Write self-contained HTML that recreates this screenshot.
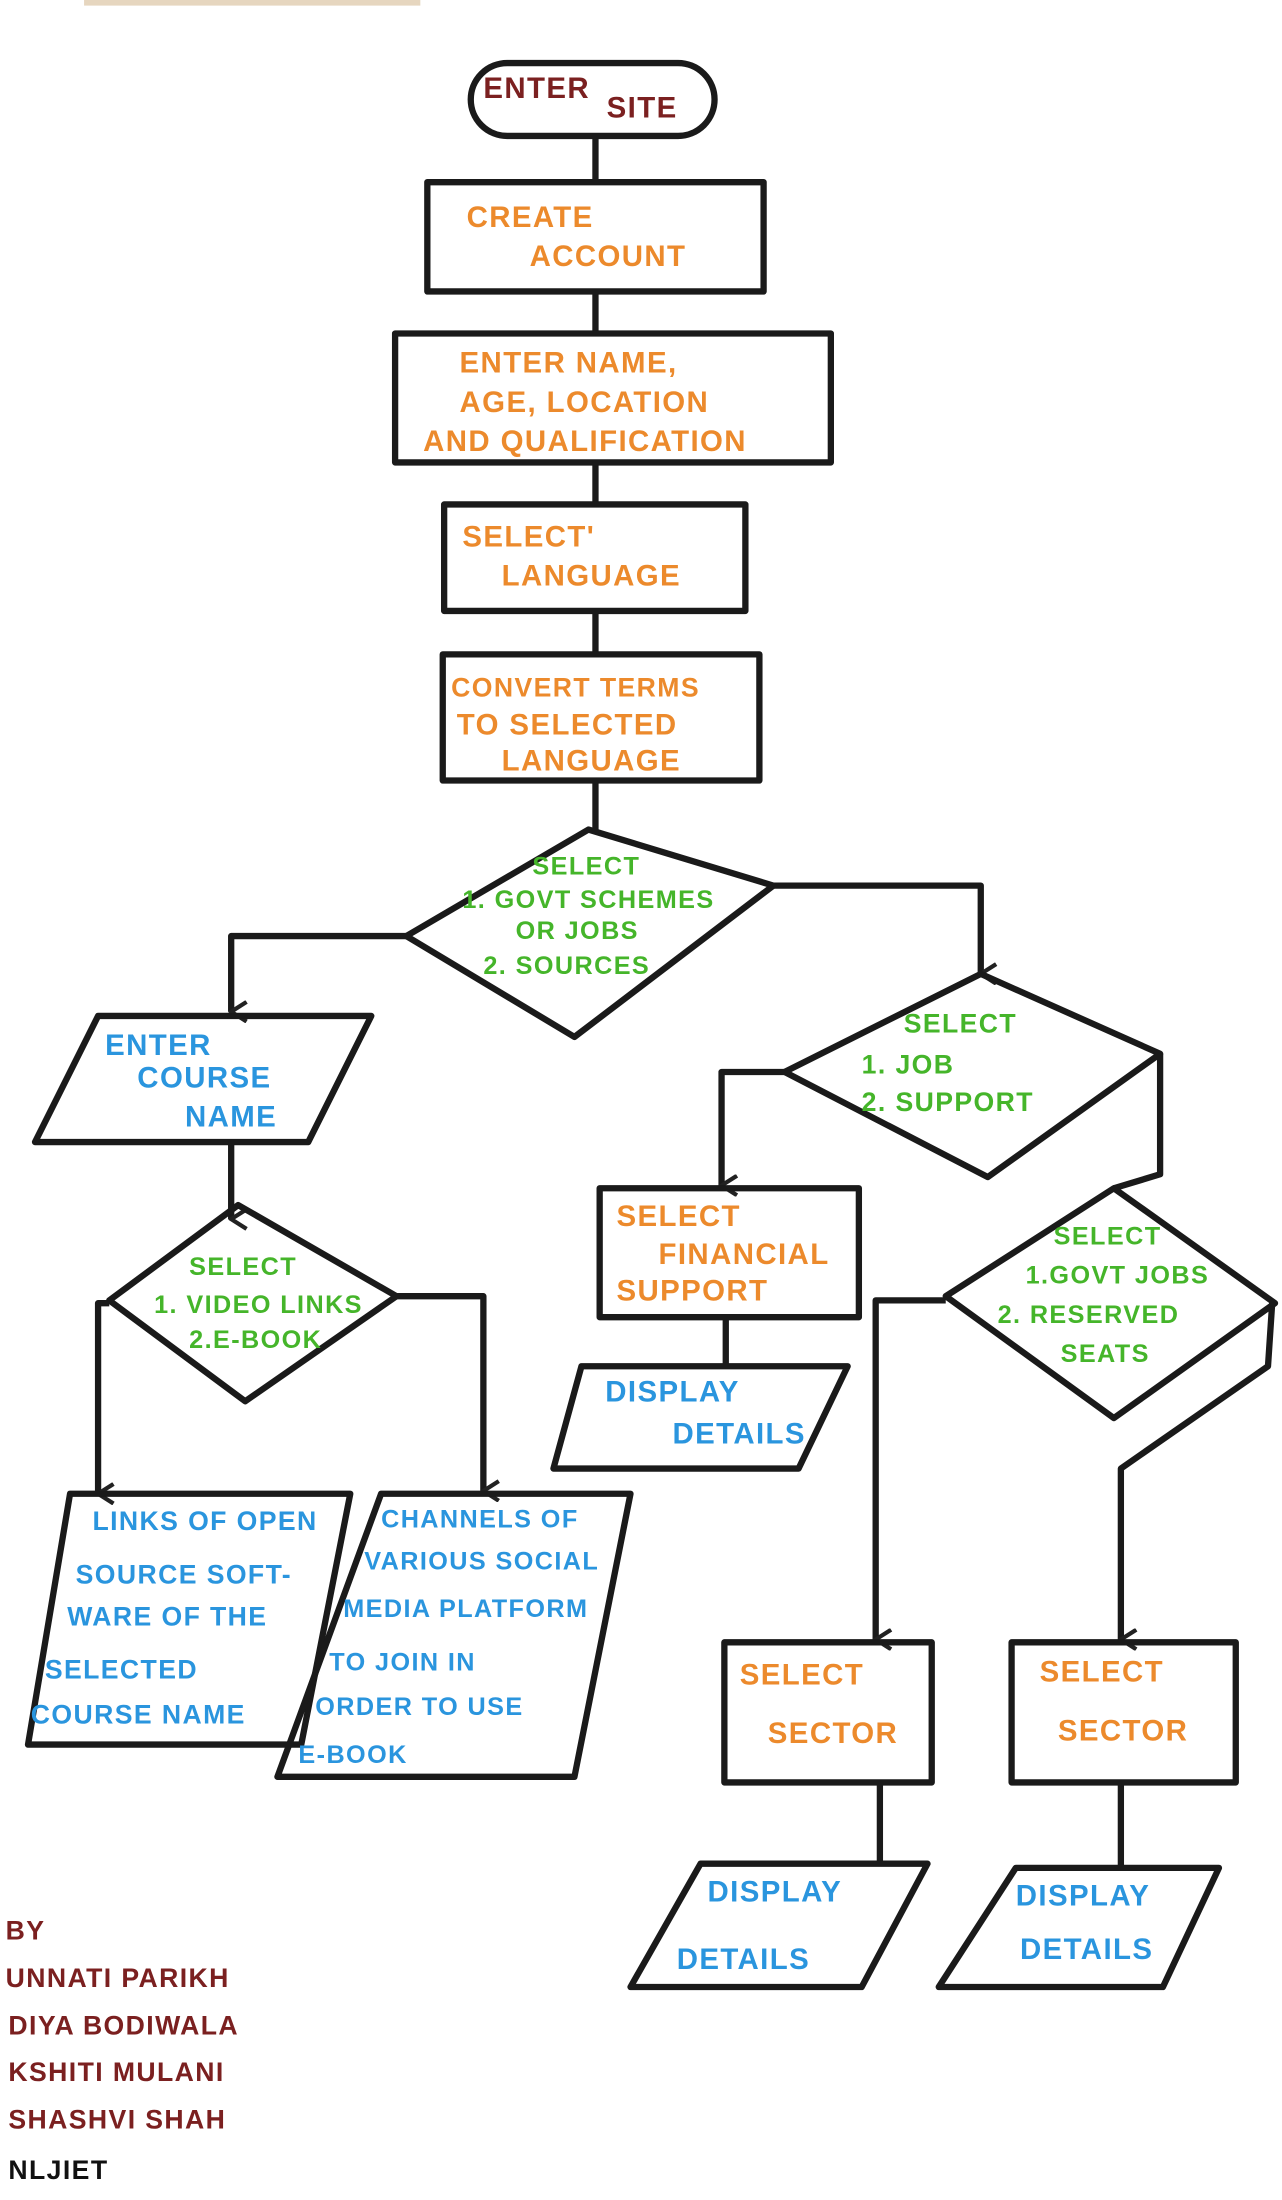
<!DOCTYPE html>
<html><head><meta charset="utf-8"><style>
html,body{margin:0;padding:0;background:#fff;}
svg{display:block}
text{font-family:"Liberation Sans",sans-serif;font-size:21px;letter-spacing:1px;font-weight:bold}
.o{fill:#ec8a2c}.g{fill:#45b52a}.b{fill:#2a95de}.r{fill:#7b2020}.k{fill:#111}
</style></head><body>
<svg width="1282" height="2200" viewBox="0 0 915 1570" preserveAspectRatio="none" xmlns="http://www.w3.org/2000/svg">
<rect x="0" y="0" width="915" height="1570" fill="#fff"/>
<rect x="60" y="0" width="240" height="4" fill="#e6d6bf"/>
<defs><marker id="a" markerWidth="16" markerHeight="14" refX="8" refY="12" orient="auto" markerUnits="userSpaceOnUse"><path d="M1,1 L8,12 L15,1" fill="none" stroke="#222" stroke-width="3"/></marker></defs>
<g fill="none" stroke="#1a1a1a" stroke-width="4.5" stroke-linejoin="round">
<rect x="336" y="45" width="174" height="52" rx="26"/>
<line x1="425" y1="97" x2="425" y2="130"/>
<rect x="305" y="130" width="240" height="78"/>
<line x1="425" y1="208" x2="425" y2="238"/>
<rect x="282" y="238" width="311" height="92"/>
<line x1="425" y1="330" x2="425" y2="360"/>
<rect x="317" y="360" width="215" height="76"/>
<line x1="425" y1="436" x2="425" y2="467"/>
<rect x="316" y="467" width="226" height="90"/>
<line x1="425" y1="557" x2="425" y2="592"/>
<polygon points="420,592 552,632 410,740 290,668"/>
<polyline points="290,668 165,668 165,722" marker-end="url(#a)"/>
<polyline points="552,632 700,632 700,695" marker-end="url(#a)"/>
<polygon points="70,725 265,725 220,815 25,815"/>
<line x1="165" y1="815" x2="165" y2="870" marker-end="url(#a)"/>
<polygon points="170,860 283,925 175,1000 78,928"/>
<polyline points="78,930 70,930 70,1066" marker-end="url(#a)"/>
<polyline points="283,925 345,925 345,1064" marker-end="url(#a)"/>
<polygon points="50,1066 250,1066 215,1245 20,1245"/>
<polygon points="272,1066 450,1066 410,1268 198,1268"/>
<polygon points="700,695 828,752 705,840 560,765"/>
<polyline points="560,765 515,765 515,846" marker-end="url(#a)"/>
<polyline points="828,752 828,838 795,848"/>
<rect x="428" y="848" width="185" height="92"/>
<line x1="518" y1="940" x2="518" y2="975"/>
<polygon points="415,975 605,975 570,1048 395,1048"/>
<polygon points="795,848 910,930 795,1012 675,925"/>
<polyline points="675,928 625,928 625,1170" marker-end="url(#a)"/>
<polyline points="908,930 905,975 800,1048 800,1170" marker-end="url(#a)"/>
<rect x="517" y="1172" width="148" height="100"/>
<rect x="722" y="1172" width="160" height="100"/>
<line x1="628" y1="1272" x2="628" y2="1330"/>
<line x1="800" y1="1272" x2="800" y2="1332"/>
<polygon points="500,1330 662,1330 615,1418 450,1418"/>
<polygon points="725,1333 870,1333 830,1418 670,1418"/>
</g>
<text class="r" x="345" y="70">ENTER</text><text class="r" x="433" y="84">SITE</text>
<text class="o" x="333" y="162">CREATE</text><text class="o" x="378" y="190">ACCOUNT</text>
<text class="o" x="328" y="266">ENTER  NAME,</text><text class="o" x="328" y="294">AGE, LOCATION</text><text class="o" x="302" y="322">AND QUALIFICATION</text>
<text class="o" x="330" y="390">SELECT'</text><text class="o" x="358" y="418">LANGUAGE</text>
<text class="o" x="322" y="497" style="font-size:19px">CONVERT  TERMS</text><text class="o" x="326" y="524">TO  SELECTED</text><text class="o" x="358" y="550">LANGUAGE</text>
<text class="g" x="380" y="624" style="font-size:18px">SELECT</text><text class="g" x="330" y="648" style="font-size:18px">1. GOVT SCHEMES</text><text class="g" x="368" y="670" style="font-size:18px">OR  JOBS</text><text class="g" x="345" y="695" style="font-size:18px">2. SOURCES</text>
<text class="b" x="75" y="753">ENTER</text><text class="b" x="98" y="776">COURSE</text><text class="b" x="132" y="804">NAME</text>
<text class="g" x="135" y="910" style="font-size:18px">SELECT</text><text class="g" x="110" y="937" style="font-size:18px">1. VIDEO LINKS</text><text class="g" x="135" y="962" style="font-size:18px">2.E-BOOK</text>
<text class="b" x="66" y="1092" style="font-size:19px">LINKS  OF  OPEN</text><text class="b" x="54" y="1130" style="font-size:19px">SOURCE  SOFT-</text><text class="b" x="48" y="1160" style="font-size:19px">WARE   OF  THE</text><text class="b" x="32" y="1198" style="font-size:19px">SELECTED</text><text class="b" x="22" y="1230" style="font-size:19px">COURSE NAME</text>
<text class="b" x="272" y="1090" style="font-size:18px">CHANNELS  OF</text><text class="b" x="260" y="1120" style="font-size:18px">VARIOUS  SOCIAL</text><text class="b" x="245" y="1154" style="font-size:18px">MEDIA PLATFORM</text><text class="b" x="235" y="1192" style="font-size:18px">TO  JOIN  IN</text><text class="b" x="225" y="1224" style="font-size:18px">ORDER  TO  USE</text><text class="b" x="213" y="1258" style="font-size:18px">E-BOOK</text>
<text class="g" x="645" y="737" style="font-size:19px">SELECT</text><text class="g" x="615" y="766" style="font-size:19px">1.  JOB</text><text class="g" x="615" y="793" style="font-size:19px">2.  SUPPORT</text>
<text class="o" x="440" y="875">SELECT</text><text class="o" x="470" y="902">FINANCIAL</text><text class="o" x="440" y="928">SUPPORT</text>
<text class="b" x="432" y="1000">DISPLAY</text><text class="b" x="480" y="1030">DETAILS</text>
<text class="g" x="752" y="888" style="font-size:18px">SELECT</text><text class="g" x="732" y="916" style="font-size:18px">1.GOVT JOBS</text><text class="g" x="712" y="944" style="font-size:18px">2. RESERVED</text><text class="g" x="757" y="972" style="font-size:18px">SEATS</text>
<text class="o" x="528" y="1202">SELECT</text><text class="o" x="548" y="1244">SECTOR</text>
<text class="o" x="742" y="1200">SELECT</text><text class="o" x="755" y="1242">SECTOR</text>
<text class="b" x="505" y="1357">DISPLAY</text><text class="b" x="483" y="1405">DETAILS</text>
<text class="b" x="725" y="1360">DISPLAY</text><text class="b" x="728" y="1398">DETAILS</text>
<text class="r" x="4" y="1384" style="font-size:19px">BY</text>
<text class="r" x="4" y="1418" style="font-size:19px">UNNATI  PARIKH</text>
<text class="r" x="6" y="1452" style="font-size:19px">DIYA  BODIWALA</text>
<text class="r" x="6" y="1485" style="font-size:19px">KSHITI  MULANI</text>
<text class="r" x="6" y="1519" style="font-size:19px">SHASHVI  SHAH</text>
<text class="k" x="6" y="1555" style="font-size:19px">NLJIET</text>
</svg>
</body></html>
